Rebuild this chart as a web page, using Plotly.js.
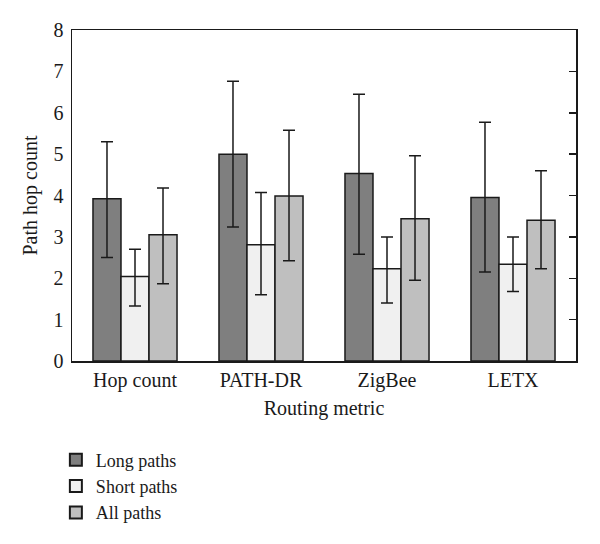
<!DOCTYPE html>
<html><head><meta charset="utf-8">
<script src="https://cdn.plot.ly/plotly-3.0.1.min.js"></script>
<style>html,body{margin:0;padding:0;background:#fff;}#chart{width:600px;height:544px;}</style>
</head><body><div id="chart"></div>
<script>
const categories = ["Hop count", "PATH-DR", "ZigBee", "LETX"];
const seriesNames = ["Long paths", "Short paths", "All paths"];
const longMean = [3.92, 5.00, 4.53, 3.95];
const longUpper = [5.30, 6.76, 6.45, 5.77];
const longLower = [2.50, 3.24, 2.58, 2.15];
const shortMean = [2.04, 2.81, 2.23, 2.34];
const shortUpper = [2.70, 4.07, 3.00, 3.00];
const shortLower = [1.33, 1.60, 1.40, 1.68];
const allMean = [3.05, 3.99, 3.44, 3.40];
const allUpper = [4.18, 5.58, 4.96, 4.60];
const allLower = [1.87, 2.42, 1.95, 2.23];
const colors = ["#7f7f7f", "#f0f0f0", "#bfbfbf"];

const FONT = "Liberation Serif, Times New Roman, serif";
function mk(name, mean, up, lo, color) {
  return {
    type: "bar", name: name, x: categories, y: mean,
    marker: {color: color, line: {color: "#1a1a1a", width: 1.5}},
    error_y: {type: "data", symmetric: false,
      array: mean.map((m, i) => up[i] - m),
      arrayminus: mean.map((m, i) => m - lo[i]),
      color: "#1a1a1a", thickness: 1.5, width: 6}
  };
}
const data = [
  mk(seriesNames[0], longMean, longUpper, longLower, colors[0]),
  mk(seriesNames[1], shortMean, shortUpper, shortLower, colors[1]),
  mk(seriesNames[2], allMean, allUpper, allLower, colors[2]),
  {type: "scatter", x: [], y: [], yaxis: "y2", showlegend: false, hoverinfo: "skip"}
];
const layout = {
  width: 600, height: 544,
  margin: {l: 72, r: 24, t: 30, b: 183, autoexpand: false},
  paper_bgcolor: "#fff", plot_bgcolor: "#fff",
  font: {family: FONT, size: 20, color: "#1a1a1a"},
  barmode: "group", bargap: 0.333, bargroupgap: 0,
  xaxis: {
    showline: true, linecolor: "#1a1a1a", linewidth: 1.5, mirror: true,
    ticks: "", showgrid: false, zeroline: false,
    tickfont: {family: FONT, size: 20},
    title: {text: "Routing metric", font: {family: FONT, size: 20}, standoff: 10}
  },
  yaxis: {
    range: [0, 8], dtick: 1, showline: true, linecolor: "#1a1a1a", linewidth: 1.5,
    mirror: true, ticks: "", showgrid: false, zeroline: false,
    ticklabelstandoff: 3,
    tickfont: {family: FONT, size: 20},
    title: {text: "Path hop count", font: {family: FONT, size: 20}, standoff: 10}
  },
  yaxis2: {
    overlaying: "y", side: "right", anchor: "x", range: [0, 8], dtick: 1,
    ticks: "inside", ticklen: 7, tickwidth: 1.5, tickcolor: "#1a1a1a",
    showticklabels: false, showgrid: false, zeroline: false, showline: false
  },
  showlegend: true,
  legend: {
    x: -0.032, xanchor: "left", y: -0.243, yanchor: "top",
    font: {family: FONT, size: 18}, tracegroupgap: 0, itemsizing: "constant",
    bgcolor: "rgba(0,0,0,0)"
  }
};
Plotly.newPlot("chart", data, layout, {displayModeBar: false, staticPlot: true});
</script>
</body></html>
